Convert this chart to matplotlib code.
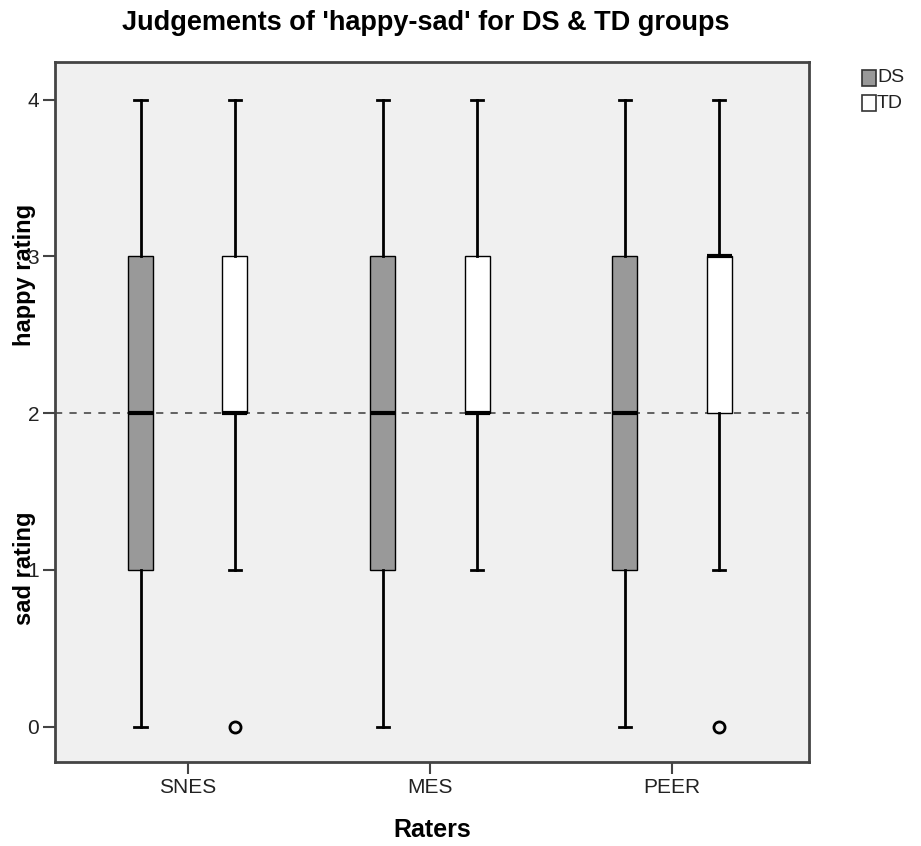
import numpy as np
import matplotlib.pyplot as plt

plt.rcParams['font.family'] = ['Liberation Sans', 'DejaVu Sans']

raters = ["SNES", "MES", "PEER"]
groups = ["DS", "TD"]

# five-number summaries per rater: (whislo, q1, med, q3, whishi)
ds_stats = [(0, 1, 2, 3, 4), (0, 1, 2, 3, 4), (0, 1, 2, 3, 4)]
td_stats = [(1, 2, 2, 3, 4), (1, 2, 2, 3, 4), (1, 2, 3, 3, 4)]
td_fliers = [[0], [], [0]]
ds_fliers = [[], [], []]

group_colors = {"DS": "#999999", "TD": "#ffffff"}
offset = 0.195

fig = plt.figure(figsize=(9.21, 8.46), dpi=100)
ax = fig.add_axes([55 / 921, 1 - 762 / 846, (809 - 55) / 921, (762 - 62) / 846])
ax.set_facecolor("#f0f0f0")

def make_stats(stats, fliers):
    out = []
    for (lo, q1, med, q3, hi), fl in zip(stats, fliers):
        out.append(dict(whislo=lo, q1=q1, med=med, q3=q3, whishi=hi, fliers=fl))
    return out

x = np.arange(len(raters))
for g, stats, fliers, sign in [("DS", ds_stats, ds_fliers, -1), ("TD", td_stats, td_fliers, 1)]:
    ax.bxp(make_stats(stats, fliers), positions=x + sign * offset, widths=0.103,
           patch_artist=True, manage_ticks=False,
           boxprops=dict(facecolor=group_colors[g], edgecolor="black", linewidth=1.0),
           medianprops=dict(color="black", linewidth=3),
           whiskerprops=dict(color="black", linewidth=2),
           capprops=dict(color="black", linewidth=2),
           capwidths=0.05,
           flierprops=dict(marker="o", markersize=8, markerfacecolor="none",
                           markeredgecolor="black", markeredgewidth=2))

ax.axhline(2, color="#555555", linestyle=(0, (4, 4)), linewidth=1.3, zorder=0.5)

ax.set_xlim(-0.548, 2.565)
ax.set_ylim(-0.225, 4.24)
ax.set_xticks(x)
ax.set_xticklabels(raters, fontsize=15, color="#222222")
ax.set_yticks([0, 1, 2, 3, 4])
ax.set_yticklabels(["0", "1", "2", "3", "4"], fontsize=15, color="#222222")
ax.tick_params(axis="both", length=8.5, width=1.5, color="#444444", pad=3)
for s in ax.spines.values():
    s.set_color("#444444")
    s.set_linewidth(2)

ax.set_xlabel("Raters", fontsize=18, fontweight="bold", labelpad=15)
ylab_font = ['Liberation Sans Narrow', 'Liberation Sans', 'DejaVu Sans']
fig.text(24 / 921, 1 - 275 / 846, "happy rating", rotation=90, fontsize=17,
         fontweight="bold", ha="center", va="center", family=ylab_font)
fig.text(24 / 921, 1 - 568 / 846, "sad rating", rotation=90, fontsize=17,
         fontweight="bold", ha="center", va="center", family=ylab_font)
fig.text(426 / 921, 1 - 23 / 846, "Judgements of 'happy-sad' for DS & TD groups",
         fontsize=19.5, fontweight="bold", ha="center", va="center")

# legend drawn as swatches in figure coordinates
for i, g in enumerate(groups):
    yc = 1 - (78 + i * 25) / 846
    fig.patches.append(plt.Rectangle((862 / 921, yc - 8 / 846), 14 / 921, 16 / 846,
                                     transform=fig.transFigure, facecolor=group_colors[g],
                                     edgecolor="#333333", linewidth=1.2))
    fig.text(877 / 921, yc, g, fontsize=14, ha="left", va="center", color="#222222")

fig.savefig("out.png", dpi=100)
